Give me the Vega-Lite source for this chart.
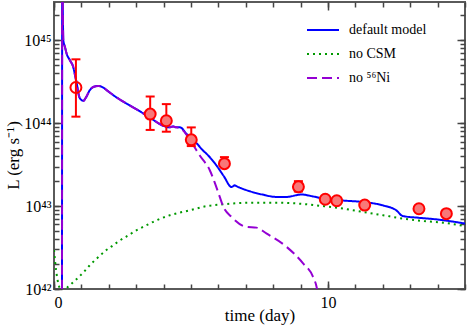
{
  "$schema": "https://vega.github.io/schema/vega-lite/v6.json",
  "width": 411,
  "height": 287,
  "autosize": "none",
  "padding": {"left": 54, "top": 2, "right": 3, "bottom": 38},
  "config": {
    "view": {"stroke": "#5a5a5a", "strokeWidth": 2},
    "font": "Liberation Serif",
    "legend": {
      "orient": "none",
      "legendX": 252,
      "legendY": 11,
      "padding": 0,
      "symbolType": "stroke",
      "symbolSize": 1024,
      "symbolStrokeWidth": 2,
      "labelFont": "Liberation Serif",
      "labelFontSize": 14,
      "labelColor": "black",
      "labelOffset": 9,
      "rowPadding": -6
    }
  },
  "datasets": {
    "curves": [
      {"t": 0.29, "L": 1e40, "series": "default model"},
      {"t": 0.30, "L": 1e46, "series": "default model"},
      {"t": 0.32, "L": 2.51e45, "series": "default model"},
      {"t": 0.34, "L": 1.0e45, "series": "default model"},
      {"t": 0.40, "L": 8.32e44, "series": "default model"},
      {"t": 0.46, "L": 6.92e44, "series": "default model"},
      {"t": 0.58, "L": 5.75e44, "series": "default model"},
      {"t": 0.70, "L": 4.79e44, "series": "default model"},
      {"t": 0.78, "L": 3.63e44, "series": "default model"},
      {"t": 0.83, "L": 3.02e44, "series": "default model"},
      {"t": 0.92, "L": 2.09e44, "series": "default model"},
      {"t": 1.00, "L": 1.91e44, "series": "default model"},
      {"t": 1.07, "L": 1.86e44, "series": "default model"},
      {"t": 1.15, "L": 2.0e44, "series": "default model"},
      {"t": 1.31, "L": 2.51e44, "series": "default model"},
      {"t": 1.45, "L": 2.75e44, "series": "default model"},
      {"t": 1.62, "L": 2.82e44, "series": "default model"},
      {"t": 1.80, "L": 2.69e44, "series": "default model"},
      {"t": 1.92, "L": 2.51e44, "series": "default model"},
      {"t": 2.20, "L": 2.14e44, "series": "default model"},
      {"t": 2.53, "L": 1.82e44, "series": "default model"},
      {"t": 3.00, "L": 1.48e44, "series": "default model"},
      {"t": 3.50, "L": 1.17e44, "series": "default model"},
      {"t": 3.98, "L": 9.33e43, "series": "default model"},
      {"t": 4.20, "L": 8.91e43, "series": "default model"},
      {"t": 4.35, "L": 9.12e43, "series": "default model"},
      {"t": 4.47, "L": 8.91e43, "series": "default model"},
      {"t": 4.60, "L": 8.91e43, "series": "default model"},
      {"t": 4.84, "L": 7.41e43, "series": "default model"},
      {"t": 4.96, "L": 6.76e43, "series": "default model"},
      {"t": 5.20, "L": 5.75e43, "series": "default model"},
      {"t": 5.44, "L": 4.68e43, "series": "default model"},
      {"t": 5.57, "L": 4.27e43, "series": "default model"},
      {"t": 5.93, "L": 3.09e43, "series": "default model"},
      {"t": 6.20, "L": 2.29e43, "series": "default model"},
      {"t": 6.48, "L": 1.70e43, "series": "default model"},
      {"t": 6.60, "L": 1.78e43, "series": "default model"},
      {"t": 6.66, "L": 1.74e43, "series": "default model"},
      {"t": 7.15, "L": 1.51e43, "series": "default model"},
      {"t": 7.60, "L": 1.38e43, "series": "default model"},
      {"t": 8.12, "L": 1.29e43, "series": "default model"},
      {"t": 8.48, "L": 1.29e43, "series": "default model"},
      {"t": 9.03, "L": 1.38e43, "series": "default model"},
      {"t": 9.40, "L": 1.32e43, "series": "default model"},
      {"t": 9.82, "L": 1.23e43, "series": "default model"},
      {"t": 10.50, "L": 1.17e43, "series": "default model"},
      {"t": 11.28, "L": 1.12e43, "series": "default model"},
      {"t": 12.01, "L": 1.02e43, "series": "default model"},
      {"t": 12.49, "L": 8.91e42, "series": "default model"},
      {"t": 12.73, "L": 7.59e42, "series": "default model"},
      {"t": 13.30, "L": 7.24e42, "series": "default model"},
      {"t": 13.95, "L": 6.92e42, "series": "default model"},
      {"t": 15.00, "L": 6.17e42, "series": "default model"},

      {"t": 0.00, "L": 2.95e42, "series": "no CSM"},
      {"t": 0.05, "L": 2.0e42, "series": "no CSM"},
      {"t": 0.10, "L": 1.48e42, "series": "no CSM"},
      {"t": 0.17, "L": 1.12e42, "series": "no CSM"},
      {"t": 0.25, "L": 9.77e41, "series": "no CSM"},
      {"t": 0.35, "L": 9.55e41, "series": "no CSM"},
      {"t": 0.52, "L": 1.07e42, "series": "no CSM"},
      {"t": 0.73, "L": 1.23e42, "series": "no CSM"},
      {"t": 0.92, "L": 1.41e42, "series": "no CSM"},
      {"t": 1.10, "L": 1.62e42, "series": "no CSM"},
      {"t": 1.29, "L": 1.91e42, "series": "no CSM"},
      {"t": 1.47, "L": 2.19e42, "series": "no CSM"},
      {"t": 1.67, "L": 2.51e42, "series": "no CSM"},
      {"t": 1.87, "L": 2.88e42, "series": "no CSM"},
      {"t": 2.09, "L": 3.24e42, "series": "no CSM"},
      {"t": 2.29, "L": 3.63e42, "series": "no CSM"},
      {"t": 2.52, "L": 4.07e42, "series": "no CSM"},
      {"t": 2.73, "L": 4.47e42, "series": "no CSM"},
      {"t": 2.96, "L": 5.01e42, "series": "no CSM"},
      {"t": 3.20, "L": 5.50e42, "series": "no CSM"},
      {"t": 3.44, "L": 6.03e42, "series": "no CSM"},
      {"t": 3.68, "L": 6.61e42, "series": "no CSM"},
      {"t": 4.23, "L": 7.76e42, "series": "no CSM"},
      {"t": 4.96, "L": 8.91e42, "series": "no CSM"},
      {"t": 5.57, "L": 1.0e43, "series": "no CSM"},
      {"t": 6.17, "L": 1.05e43, "series": "no CSM"},
      {"t": 7.15, "L": 1.10e43, "series": "no CSM"},
      {"t": 8.12, "L": 1.10e43, "series": "no CSM"},
      {"t": 8.97, "L": 1.07e43, "series": "no CSM"},
      {"t": 9.82, "L": 1.0e43, "series": "no CSM"},
      {"t": 10.55, "L": 9.33e42, "series": "no CSM"},
      {"t": 11.28, "L": 8.51e42, "series": "no CSM"},
      {"t": 12.01, "L": 7.76e42, "series": "no CSM"},
      {"t": 12.73, "L": 7.08e42, "series": "no CSM"},
      {"t": 13.46, "L": 6.61e42, "series": "no CSM"},
      {"t": 14.19, "L": 6.31e42, "series": "no CSM"},
      {"t": 15.00, "L": 5.75e42, "series": "no CSM"},

      {"t": 0.29, "L": 1e40, "series": "no ⁵⁶Ni"},
      {"t": 0.30, "L": 1e46, "series": "no ⁵⁶Ni"},
      {"t": 0.32, "L": 2.51e45, "series": "no ⁵⁶Ni"},
      {"t": 0.34, "L": 1.0e45, "series": "no ⁵⁶Ni"},
      {"t": 0.40, "L": 8.32e44, "series": "no ⁵⁶Ni"},
      {"t": 0.46, "L": 6.92e44, "series": "no ⁵⁶Ni"},
      {"t": 0.58, "L": 5.75e44, "series": "no ⁵⁶Ni"},
      {"t": 0.70, "L": 4.79e44, "series": "no ⁵⁶Ni"},
      {"t": 0.78, "L": 3.63e44, "series": "no ⁵⁶Ni"},
      {"t": 0.83, "L": 3.02e44, "series": "no ⁵⁶Ni"},
      {"t": 0.92, "L": 2.09e44, "series": "no ⁵⁶Ni"},
      {"t": 1.00, "L": 1.91e44, "series": "no ⁵⁶Ni"},
      {"t": 1.07, "L": 1.86e44, "series": "no ⁵⁶Ni"},
      {"t": 1.15, "L": 2.0e44, "series": "no ⁵⁶Ni"},
      {"t": 1.31, "L": 2.51e44, "series": "no ⁵⁶Ni"},
      {"t": 1.45, "L": 2.75e44, "series": "no ⁵⁶Ni"},
      {"t": 1.62, "L": 2.82e44, "series": "no ⁵⁶Ni"},
      {"t": 1.80, "L": 2.69e44, "series": "no ⁵⁶Ni"},
      {"t": 1.92, "L": 2.51e44, "series": "no ⁵⁶Ni"},
      {"t": 2.20, "L": 2.14e44, "series": "no ⁵⁶Ni"},
      {"t": 2.53, "L": 1.82e44, "series": "no ⁵⁶Ni"},
      {"t": 3.00, "L": 1.48e44, "series": "no ⁵⁶Ni"},
      {"t": 3.50, "L": 1.17e44, "series": "no ⁵⁶Ni"},
      {"t": 3.98, "L": 9.33e43, "series": "no ⁵⁶Ni"},
      {"t": 4.20, "L": 8.91e43, "series": "no ⁵⁶Ni"},
      {"t": 4.35, "L": 9.12e43, "series": "no ⁵⁶Ni"},
      {"t": 4.47, "L": 8.91e43, "series": "no ⁵⁶Ni"},
      {"t": 4.60, "L": 8.71e43, "series": "no ⁵⁶Ni"},
      {"t": 4.84, "L": 7.24e43, "series": "no ⁵⁶Ni"},
      {"t": 4.96, "L": 6.31e43, "series": "no ⁵⁶Ni"},
      {"t": 5.32, "L": 4.07e43, "series": "no ⁵⁶Ni"},
      {"t": 5.69, "L": 2.69e43, "series": "no ⁵⁶Ni"},
      {"t": 5.87, "L": 1.91e43, "series": "no ⁵⁶Ni"},
      {"t": 6.05, "L": 1.29e43, "series": "no ⁵⁶Ni"},
      {"t": 6.17, "L": 1.0e43, "series": "no ⁵⁶Ni"},
      {"t": 6.48, "L": 7.41e42, "series": "no ⁵⁶Ni"},
      {"t": 7.02, "L": 5.62e42, "series": "no ⁵⁶Ni"},
      {"t": 7.39, "L": 5.50e42, "series": "no ⁵⁶Ni"},
      {"t": 7.75, "L": 4.68e42, "series": "no ⁵⁶Ni"},
      {"t": 8.48, "L": 3.24e42, "series": "no ⁵⁶Ni"},
      {"t": 9.09, "L": 2.04e42, "series": "no ⁵⁶Ni"},
      {"t": 9.45, "L": 1.41e42, "series": "no ⁵⁶Ni"},
      {"t": 9.58, "L": 1.07e42, "series": "no ⁵⁶Ni"},
      {"t": 9.65, "L": 7.94e41, "series": "no ⁵⁶Ni"}
    ],
    "points": [
      {"t": 0.80, "L": 2.7e44, "lo": 1.2e44, "hi": 5.9e44, "kind": "open"},
      {"t": 3.51, "L": 1.29e44, "lo": 8.3e43, "hi": 2.1e44, "kind": "filled"},
      {"t": 4.10, "L": 1.07e44, "lo": 7.9e43, "hi": 1.7e44, "kind": "filled"},
      {"t": 5.01, "L": 6.3e43, "lo": 5.3e43, "hi": 8.9e43, "kind": "filled"},
      {"t": 6.22, "L": 3.25e43, "lo": 3.0e43, "hi": 3.9e43, "kind": "filled"},
      {"t": 8.92, "L": 1.71e43, "lo": 1.5e43, "hi": 2.0e43, "kind": "filled"},
      {"t": 9.90, "L": 1.21e43, "kind": "filled"},
      {"t": 10.32, "L": 1.16e43, "kind": "filled"},
      {"t": 11.34, "L": 1.03e43, "kind": "filled"},
      {"t": 13.32, "L": 9.3e42, "kind": "filled"},
      {"t": 14.32, "L": 8.1e42, "kind": "filled"}
    ]
  },
  "layer": [
    {
      "data": {"name": "curves"},
      "mark": {"type": "line", "clip": true, "strokeWidth": 2, "interpolate": "monotone"},
      "encoding": {
        "x": {
          "field": "t", "type": "quantitative",
          "scale": {"domain": [0, 15], "nice": false, "zero": false},
          "axis": {
            "orient": "bottom",
            "domain": false,
            "grid": false,
            "values": [0,1,2,3,4,5,6,7,8,9,10,11,12,13,14,15],
            "labelExpr": "datum.value % 10 == 0 ? datum.label : ''",
            "tickSize": -5,
            "tickWidth": 1.5,
            "tickColor": "#444444",
            "labelPadding": 10,
            "labelFont": "Liberation Serif",
            "labelFontSize": 16,
            "labelColor": "black",
            "title": "time (day)",
            "titleFont": "Liberation Serif",
            "titleFontSize": 17,
            "titleFontWeight": "normal",
            "titleColor": "black",
            "titleBaseline": "alphabetic",
            "titleY": 31
          }
        },
        "y": {
          "field": "L", "type": "quantitative",
          "scale": {"type": "log", "domain": [1e42, 2.9e45], "nice": false},
          "axis": {
            "orient": "left",
            "domain": false,
            "grid": false,
            "values": [1e42,2e42,3e42,4e42,5e42,6e42,7e42,8e42,9e42,1e43,2e43,3e43,4e43,5e43,6e43,7e43,8e43,9e43,1e44,2e44,3e44,4e44,5e44,6e44,7e44,8e44,9e44,1e45,2e45],
            "labelExpr": "datum.value == 1e42 ? '10⁴²' : datum.value == 1e43 ? '10⁴³' : datum.value == 1e44 ? '10⁴⁴' : datum.value == 1e45 ? '10⁴⁵' : ''",
            "tickSize": -5,
            "tickWidth": 1.5,
            "tickColor": "#444444",
            "labelPadding": 8,
            "labelFont": "Liberation Serif",
            "labelFontSize": 16,
            "labelColor": "black",
            "title": "L (erg s⁻¹)",
            "titleFont": "Liberation Serif",
            "titleFontSize": 17,
            "titleFontWeight": "normal",
            "titleColor": "black",
            "titleBaseline": "middle",
            "titleX": -41,
            "titleY": 153
          }
        },
        "color": {
          "field": "series", "type": "nominal",
          "scale": {"domain": ["default model", "no CSM", "no ⁵⁶Ni"], "range": ["#0000ff", "#009900", "#9400d3"]},
          "legend": {"title": null}
        },
        "strokeDash": {
          "field": "series", "type": "nominal",
          "scale": {"domain": ["default model", "no CSM", "no ⁵⁶Ni"], "range": [[1, 0], [2, 4], [10, 5]]},
          "legend": {"title": null}
        }
      }
    },
    {
      "data": {"name": "points"},
      "transform": [{"filter": "isValid(datum.hi)"}],
      "layer": [
        {
          "mark": {"type": "rule", "color": "#ff0000", "strokeWidth": 2},
          "encoding": {
            "x": {
              "field": "t", "type": "quantitative",
              "axis": {"orient": "bottom", "domain": false, "grid": false, "tickSize": -8, "tickWidth": 1.5, "tickColor": "#444444", "values": [0, 10], "labels": false, "title": null}
            },
            "y": {
              "field": "lo", "type": "quantitative",
              "axis": {"orient": "left", "domain": false, "grid": false, "tickSize": -8, "tickWidth": 1.5, "tickColor": "#444444", "values": [1e42, 1e43, 1e44, 1e45], "labels": false, "title": null}
            },
            "y2": {"field": "hi"}
          }
        },
        {
          "mark": {"type": "tick", "orient": "horizontal", "color": "#ff0000", "size": 9, "thickness": 2, "opacity": 1},
          "encoding": {
            "x": {
              "field": "t", "type": "quantitative",
              "axis": {"orient": "top", "domain": false, "grid": false, "tickSize": -8, "tickWidth": 1.5, "tickColor": "#444444", "values": [0, 10], "labels": false, "title": null}
            },
            "y": {
              "field": "hi", "type": "quantitative",
              "axis": {"orient": "right", "domain": false, "grid": false, "tickSize": -8, "tickWidth": 1.5, "tickColor": "#444444", "values": [1e42, 1e43, 1e44, 1e45], "labels": false, "title": null}
            }
          }
        },
        {
          "mark": {"type": "tick", "orient": "horizontal", "color": "#ff0000", "size": 9, "thickness": 2, "opacity": 1},
          "encoding": {
            "x": {"field": "t", "type": "quantitative", "axis": null},
            "y": {"field": "lo", "type": "quantitative", "axis": null}
          }
        }
      ]
    },
    {
      "data": {"name": "points"},
      "mark": {"type": "point", "shape": "circle", "filled": false, "size": 120, "stroke": "#ff0000", "strokeWidth": 2, "fill": "#f87878", "opacity": 1},
      "encoding": {
        "x": {
          "field": "t", "type": "quantitative",
          "axis": {
            "orient": "top", "domain": false, "grid": false, "labels": false, "title": null, "tickColor": "#444444", "tickWidth": 1.5,
            "values": [0,1,2,3,4,5,6,7,8,9,10,11,12,13,14,15],
            "tickSize": -5
          }
        },
        "y": {
          "field": "L", "type": "quantitative",
          "axis": {
            "orient": "right", "domain": false, "grid": false, "labels": false, "title": null, "tickColor": "#444444", "tickWidth": 1.5,
            "values": [1e42,2e42,3e42,4e42,5e42,6e42,7e42,8e42,9e42,1e43,2e43,3e43,4e43,5e43,6e43,7e43,8e43,9e43,1e44,2e44,3e44,4e44,5e44,6e44,7e44,8e44,9e44,1e45,2e45],
            "tickSize": -5
          }
        },
        "fillOpacity": {
          "field": "kind", "type": "nominal",
          "scale": {"domain": ["open", "filled"], "range": [0, 1]},
          "legend": null
        }
      }
    }
  ],
  "resolve": {"axis": {"x": "independent", "y": "independent"}}
}
